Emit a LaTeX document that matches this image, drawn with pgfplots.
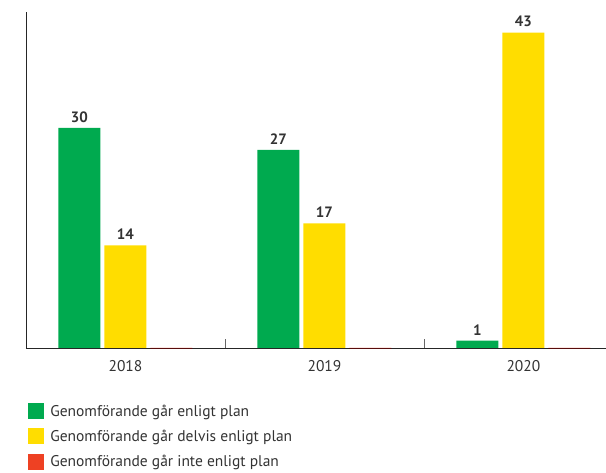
\documentclass[border=0pt]{standalone}
\usepackage{pgfplots}
\pgfplotsset{compat=1.18}
\usepackage{fontspec}
\setmainfont{PT Sans}
\definecolor{cgreen}{HTML}{00AA4F}
\definecolor{cyellow}{HTML}{FFDD00}
\definecolor{cred}{HTML}{EE4123}
\definecolor{ctext}{HTML}{333333}
\begin{document}
\begin{tikzpicture}[x=1pt,y=1pt]
\path[use as bounding box] (0,0) rectangle (606,473);
\begin{axis}[
  at={(26pt,125pt)}, anchor=south west,
  scale only axis, width=580pt, height=336pt,
  ybar=4pt, bar width=42pt, clip=false,
  xmin=-0.5, xmax=2.415, ymin=0, ymax=45.8,
  axis x line=bottom, axis y line=left,
  axis line style={-, draw=black!85, line width=0.8pt},
  /pgf/number format/assume math mode=true,
  ytick=\empty,
  xtick={0,1,2}, xticklabels={2018,2019,2020},
  xtick pos=left, xtick align=inside,
  xtick style={draw=black!60, line width=0.7pt},
  major tick length=0pt,
  extra x ticks={0.5,1.5}, extra x tick labels={},
  extra x tick style={major tick length=9pt},
  xticklabel style={font=\fontsize{15.5}{17}\selectfont, text=ctext, yshift=-9pt},
  nodes near coords,
  nodes near coords style={font=\bfseries\fontsize{15}{17}\selectfont, text=ctext, yshift=2pt},
  legend style={at={(0.003,-0.162)}, anchor=north west, draw=none, fill=none,
    font=\fontsize{15.5}{17}\selectfont, text=ctext, row sep=8.5pt,
    legend cell align=left, inner sep=0pt,
    /tikz/every even column/.append style={column sep=0pt}},
  legend image code/.code={\fill[#1,draw=none] (0pt,-8pt) rectangle (16pt,8pt); \path (20pt,0);},
]
\addplot[fill=cgreen, draw=none] coordinates {(0,30) (1,27) (2,1)};
\addplot[fill=cyellow, draw=none] coordinates {(0,14) (1,17) (2,43)};
\addplot[fill=cred, draw=red!45!black, line width=0.8pt, nodes near coords=\empty] coordinates {(0,0) (1,0) (2,0)};
\legend{Genomförande går enligt plan, Genomförande går delvis enligt plan, Genomförande går inte enligt plan}
\end{axis}
\end{tikzpicture}
\end{document}
